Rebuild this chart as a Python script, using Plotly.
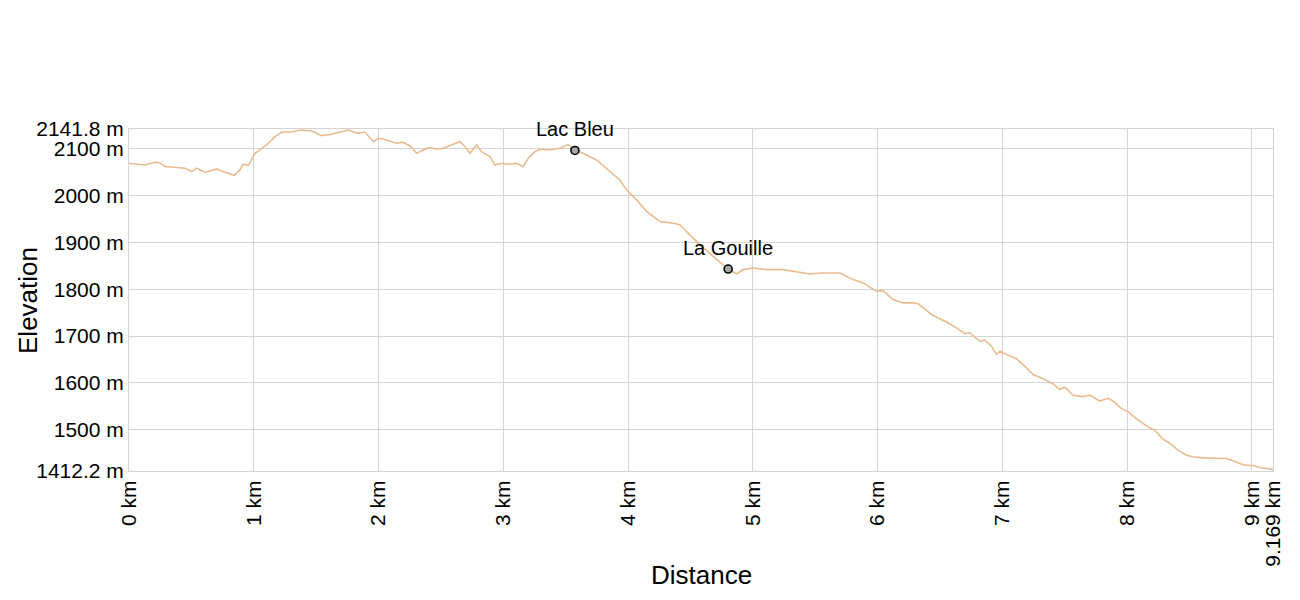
import plotly.graph_objects as go

# elevation profile
dist_km = [0.0, 0.075, 0.128, 0.208, 0.248, 0.288, 0.369, 0.449, 0.502, 0.542,
           0.609, 0.703, 0.769, 0.844, 0.889, 0.916, 0.956, 1.01, 1.063, 1.116,
           1.17, 1.223, 1.303, 1.384, 1.464, 1.544, 1.624, 1.677, 1.757, 1.837,
           1.891, 1.958, 1.998, 2.03, 2.091, 2.145, 2.198, 2.252, 2.305, 2.345,
           2.398, 2.465, 2.518, 2.586, 2.652, 2.692, 2.732, 2.786, 2.826, 2.893,
           2.933, 2.986, 3.039, 3.107, 3.159, 3.2, 3.253, 3.293, 3.373, 3.454,
           3.52, 3.574, 3.64, 3.747, 3.854, 3.934, 3.988, 4.068, 4.148, 4.255,
           4.361, 4.415, 4.495, 4.575, 4.682, 4.802, 4.869, 4.922, 5.002, 5.109,
           5.243, 5.377, 5.457, 5.537, 5.697, 5.804, 5.884, 5.991, 6.044, 6.124,
           6.204, 6.285, 6.325, 6.378, 6.432, 6.498, 6.565, 6.632, 6.699, 6.739,
           6.819, 6.859, 6.913, 6.953, 6.979, 7.033, 7.113, 7.179, 7.246, 7.326,
           7.406, 7.46, 7.5, 7.567, 7.647, 7.7, 7.78, 7.847, 7.887, 7.954,
           8.007, 8.074, 8.155, 8.221, 8.288, 8.341, 8.408, 8.475, 8.528, 8.608,
           8.688, 8.796, 8.849, 8.929, 9.009, 9.076, 9.156, 9.169]
elev_m = [2068.8, 2067, 2065, 2071, 2070, 2061.6, 2059.5, 2058, 2051, 2058,
          2049, 2056.7, 2049.6, 2043, 2054.6, 2066.7, 2063.7, 2090, 2100.7, 2111,
          2125.5, 2134.7, 2136, 2139.7, 2137.5, 2127.6, 2130.5, 2134, 2139.7, 2132.6,
          2135.4, 2114.8, 2122, 2121, 2115, 2111.4, 2113.5, 2105.6, 2090, 2095.6,
          2102, 2099.2, 2100.7, 2107.8, 2115, 2104.3, 2090, 2107.8, 2093.5, 2082.8,
          2065, 2068.8, 2066.7, 2068.8, 2061.6, 2079.4, 2093.5, 2098.6, 2097, 2100.7,
          2109, 2096, 2090, 2075.8, 2051, 2033, 2012, 1990.7, 1965.8, 1944.5,
          1941, 1937.5, 1916, 1895, 1870, 1843, 1832.6, 1841.8, 1845.3, 1841.8,
          1841.8, 1836, 1832.6, 1834.7, 1834.7, 1820.5, 1813.4, 1795.6, 1797, 1778,
          1770.8, 1771, 1768.8, 1758, 1746, 1736.8, 1728.3, 1717.7, 1705, 1707,
          1689, 1691.3, 1678.5, 1660.8, 1667.9, 1660.8, 1651.6, 1635.9, 1618, 1609,
          1598.4, 1586, 1591, 1573.6, 1570.8, 1574, 1561.5, 1567.3, 1561.5, 1545.3,
          1539, 1524, 1508.4, 1499, 1480, 1471.5, 1456.6, 1446, 1442.5, 1440.3,
          1439.6, 1439, 1434, 1425.5, 1423.4, 1419, 1416.2, 1414]

# waypoints
wp_names = ["Lac Bleu", "La Gouille"]
wp_dist = [3.574, 4.802]
wp_elev = [2096, 1843]

# axis ticks
x_ticks = [0, 1, 2, 3, 4, 5, 6, 7, 8, 9, 9.169]
x_labels = ["0 km", "1 km", "2 km", "3 km", "4 km", "5 km", "6 km", "7 km",
            "8 km", "9 km", "9.169 km"]
y_ticks = [1412.2, 1500, 1600, 1700, 1800, 1900, 2000, 2100, 2141.8]
y_labels = ["1412.2 m", "1500 m", "1600 m", "1700 m", "1800 m", "1900 m",
            "2000 m", "2100 m", "2141.8 m"]

grid = "#d4d4d4"
font = "Liberation Sans, Arial, sans-serif"

fig = go.Figure()
fig.add_trace(go.Scatter(
    x=dist_km, y=elev_m, mode="lines",
    line=dict(color="#ebbb90", width=1.6),
    hoverinfo="x+y", showlegend=False))

fig.add_trace(go.Scatter(
    x=wp_dist, y=wp_elev, mode="markers", cliponaxis=False,
    marker=dict(size=8, color="#a8a8a8", line=dict(color="black", width=1.6)),
    hovertext=wp_names, hoverinfo="text", showlegend=False))

# waypoint names above their markers
for name, d, e in zip(wp_names, wp_dist, wp_elev):
    fig.add_annotation(x=d, y=e, text=name, showarrow=False,
                       yanchor="bottom", yshift=8,
                       font=dict(family=font, size=20, color="black"))

fig.update_xaxes(
    range=[0, 9.169], tickmode="array", tickvals=x_ticks, ticktext=x_labels,
    tickangle=-90, showgrid=True, gridcolor=grid, gridwidth=1,
    showline=True, linecolor=grid, mirror=True, zeroline=False, ticks="",
    tickfont=dict(family=font, size=21, color="black"))
fig.update_yaxes(
    range=[1412.2, 2141.8], tickmode="array", tickvals=y_ticks, ticktext=y_labels,
    showgrid=True, gridcolor=grid, gridwidth=1,
    showline=True, linecolor=grid, mirror=True, zeroline=False, ticks="",
    tickfont=dict(family=font, size=21, color="black"))

# axis titles as annotations so they sit where the reference has them
fig.add_annotation(text="Distance", xref="paper", yref="paper",
                   x=0.5, y=-0.304, xanchor="center", yanchor="middle",
                   showarrow=False, font=dict(family=font, size=26, color="black"))
fig.add_annotation(text="Elevation", xref="paper", yref="paper",
                   x=-0.0883, y=0.5, xanchor="center", yanchor="middle", textangle=-90,
                   showarrow=False, font=dict(family=font, size=26, color="black"))

fig.update_layout(
    width=1300, height=600,
    margin=dict(l=121, r=35, t=121, b=137, autoexpand=False),
    plot_bgcolor="white", paper_bgcolor="white",
    font=dict(family=font, size=20, color="black"),
    hovermode="closest")

fig.write_html("out.html")
